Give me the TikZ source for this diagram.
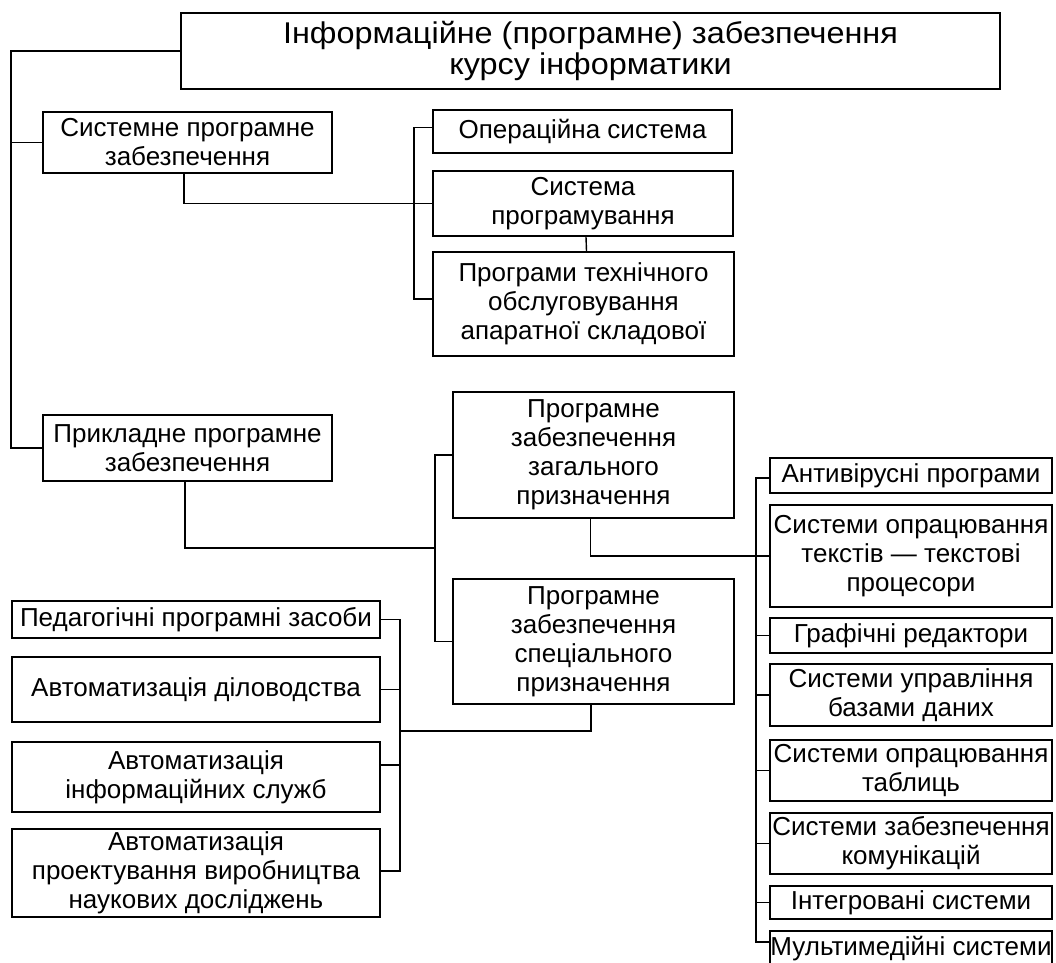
\documentclass[tikz,border=0pt]{standalone}
\usepackage{fontspec}
\setmainfont{Liberation Sans}
\newfontfamily\widefont[FakeStretch=1.08]{Liberation Sans}
\begin{document}
\begin{tikzpicture}[x=1pt,y=-1pt,
  box/.style={draw, line width=1.8pt, align=center, inner sep=0pt, font=\fontsize{26}{29}\selectfont},
  wh/.style 2 args={minimum width=#1pt, minimum height=#2pt},
  conn/.style={line width=1.4pt}]
\useasboundingbox (0,0) rectangle (1056,962);
\fill[white] (0,0) rectangle (1056,962);

% top
\node[box, wh={819}{76}, font=\widefont\fontsize{30}{31}\selectfont] (top) at (590.5,51) {Інформаційне (програмне) забезпечення\\курсу інформатики};

% system software
\node[box, wh={289}{61}] (sys) at (187.5,142.5) {Системне програмне\\забезпечення};
\node[box, wh={299}{43}] (os) at (582.5,131.5) {Операційна система};
\node[box, wh={300}{65}] (prog) at (583,203.5) {Система\\програмування};
\node[box, wh={301}{104}] (tech) at (583.5,304) {Програми технічного\\обслуговування\\апаратної складової};

% application software
\node[box, wh={289}{66}] (app) at (187.5,448) {Прикладне програмне\\забезпечення};
\node[box, wh={281}{126}] (gen) at (593.5,455) {Програмне\\забезпечення\\загального\\призначення};
\node[box, wh={281}{125}] (spec) at (593.5,641.5) {Програмне\\забезпечення\\спеціального\\призначення};

% right column
\node[box, wh={282}{35}] (anti) at (911,475.5) {Антивірусні програми};
\node[box, wh={282}{102}] (text) at (911,556) {Системи опрацювання\\текстів — текстові\\процесори};
\node[box, wh={282}{35}] (graph) at (911,635.5) {Графічні редактори};
\node[box, wh={282}{62}] (db) at (911,695) {Системи управління\\базами даних};
\node[box, wh={282}{61}] (tab) at (911,770.5) {Системи опрацювання\\таблиць};
\node[box, wh={282}{61}] (comm) at (911,843.5) {Системи забезпечення\\комунікацій};
\node[box, wh={282}{33}] (integ) at (911,902.5) {Інтегровані системи};
\node[box, wh={282}{35}] (multi) at (911,948.5) {Мультимедійні системи};

% left column
\node[box, wh={368}{37}] (ped) at (196,619.5) {Педагогічні програмні засоби};
\node[box, wh={368}{65}] (doc) at (196,689.5) {Автоматизація діловодства};
\node[box, wh={368}{70}] (info) at (196,777) {Автоматизація\\інформаційних служб};
\node[box, wh={368}{88}] (proj) at (196,873) {Автоматизація\\проектування виробництва\\наукових досліджень};

% bus coordinates
\coordinate (L) at (11,0);
\coordinate (B1) at (414,0);
\coordinate (B2) at (435,0);
\coordinate (B3) at (756,0);
\coordinate (B4) at (400,0);
\coordinate (j2) at (435,548);
\coordinate (j4) at (400,731);

% main left line
\draw[conn] (top.west) -- (top.west -| L) -- (app.west -| L) -- (app.west);
\draw[conn] (sys.west -| L) -- (sys.west);

% system software branch
\draw[conn] ([xshift=-3.5pt]sys.south) |- (prog.west);
\draw[conn] ([yshift=4pt]os.west) -- ([yshift=4pt]os.west -| B1) -- ([yshift=5pt]tech.west -| B1) -- ([yshift=5pt]tech.west);
\draw[conn] ([xshift=3pt]prog.south) -- ([xshift=3pt]tech.north);

% application software branch
\draw[conn] ([xshift=-2.5pt]app.south) |- (j2);
\draw[conn] (gen.west) -- (gen.west -| B2) -- (spec.west -| B2) -- (spec.west);

% general purpose
\draw[conn] ([xshift=-3pt]gen.south) |- (text.west);
\draw[conn] ([yshift=-2.5pt]anti.west) -- ([yshift=-2.5pt]anti.west -| B3) -- ([yshift=6.5pt]multi.west -| B3) -- ([yshift=6.5pt]multi.west);
\foreach \n in {graph,db,tab,comm,integ} \draw[conn] (\n.west -| B3) -- (\n.west);

% special purpose
\draw[conn] ([xshift=-2.5pt]spec.south) |- (j4);
\draw[conn] (ped.east) -- (ped.east -| B4) -- ([yshift=2pt]proj.east -| B4) -- ([yshift=2pt]proj.east);
\draw[conn] (doc.east) -- (doc.east -| B4);
\draw[conn] ([yshift=12pt]info.east) -- ([yshift=12pt]info.east -| B4);
\end{tikzpicture}
\end{document}
